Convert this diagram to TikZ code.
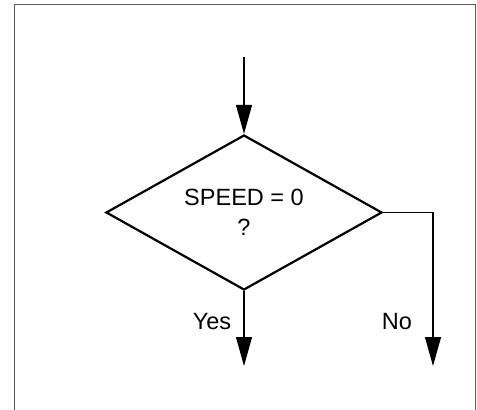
\documentclass[tikz,border=0pt]{standalone}
\usepackage{fontspec}
\setmainfont{Liberation Sans}
\usetikzlibrary{shapes.geometric,arrows.meta}
\begin{document}
\begin{tikzpicture}[x=1pt,y=-1pt,
  decision/.style={diamond,draw,aspect=1.78,line width=2.2pt,minimum width=276pt,minimum height=155pt,inner sep=0pt,align=center,font=\fontsize{23.5}{30}\selectfont},
  conn/.style={line width=1.1pt,-{Triangle[length=29pt,width=16pt]}},
  lbl/.style={font=\fontsize{23.5}{28}\selectfont,inner sep=0pt},
  frame/.style={draw=black!65,line width=0.9pt}]
\useasboundingbox (0,0) rectangle (477,410);
\draw[frame] (14,414) -- (14,4) -- (475,4) -- (475,414);
\coordinate (start) at (244,57);
\node[decision] (d) at (244,212.5) {SPEED = 0\\?};
\coordinate (yesend) at (244,366);
\coordinate (noend) at (433,366);
\draw[conn] (start) -- (d.north);
\draw[conn] (d.south) -- (yesend);
\draw[conn] (d.east) -| (noend);
\node[lbl] (yes) at (212,322) {Yes};
\node[lbl] (no) at (397,322) {No};
\end{tikzpicture}
\end{document}
